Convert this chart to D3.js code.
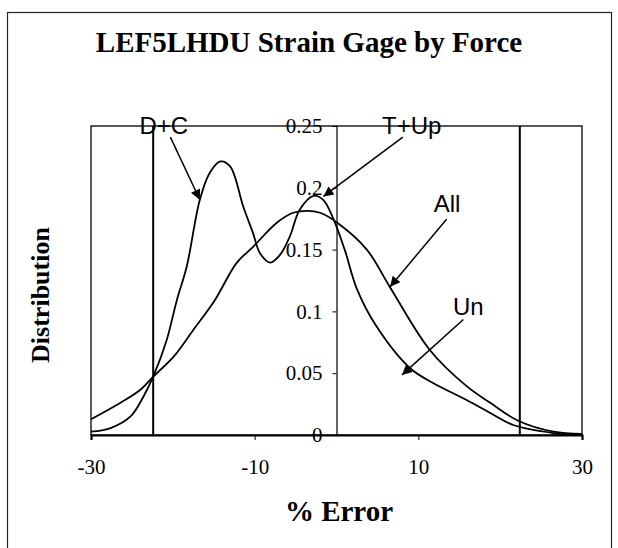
<!DOCTYPE html>
<html>
<head>
<meta charset="utf-8">
<script src="https://cdn.jsdelivr.net/npm/d3@7"></script>
<style>
  body { margin: 0; background: #fff; }
  svg { display: block; }
</style>
</head>
<body>
<svg id="chart" width="618" height="548"></svg>
<script>
// --- Data -------------------------------------------------
const xTicks = [-30, -10, 10, 30];
const yTicks = [0, 0.05, 0.1, 0.15, 0.2, 0.25];
const limitLines = [-22.4, 22.4];

// broad curve (All)
const allX = [-30, -26.5, -24, -22.4, -19.9, -17.5, -14.85, -12.2, -10.2, -7.3, -5.3, -3.6, -2, 0.1, 3.7, 6.5, 11.4, 15.9, 18.8, 22.2, 26.5, 30];
const allY = [0.0127, 0.0257, 0.0364, 0.0472, 0.0634, 0.085, 0.1093, 0.1393, 0.1522, 0.1717, 0.1798, 0.1814, 0.1798, 0.1717, 0.15, 0.12, 0.0688, 0.0395, 0.026, 0.0115, 0.0027, 0.0008];

// split curve (D+C / T+Up / Un)
const splitX = [-30, -27.7, -25.2, -23.6, -22.4, -20.75, -19.5, -18.3, -16.7, -15.5, -14.2, -13, -11.4, -10.2, -9.35, -8.1, -6.9, -5.7, -4.5, -2.8, -1.6, -0.4, 1, 2.5, 4.9, 9, 11.8, 15.9, 18.8, 21.6, 26.5, 30];
const splitY = [0.0027, 0.0054, 0.0148, 0.031, 0.0472, 0.0769, 0.1093, 0.1363, 0.1903, 0.2119, 0.2213, 0.2173, 0.1849, 0.1633, 0.1471, 0.1395, 0.1457, 0.1606, 0.1822, 0.1935, 0.19, 0.175, 0.15, 0.118, 0.0877, 0.054, 0.0421, 0.0283, 0.0178, 0.0081, 0.0016, 0];

// labels with arrows: text, label position (baseline), arrow start, arrow tip
const labelText = ["D+C", "T+Up", "All", "Un"];
const labelAt = [[-21.1, 0.2437], [9.2, 0.2437], [13.5, 0.1806], [16.1, 0.0972]];
const arrowFrom = [[-20.3, 0.241], [8.1, 0.241], [13.45, 0.1745], [15.5, 0.0935]];
const arrowTo = [[-16.7, 0.1903], [-1.6, 0.193], [6.55, 0.12], [8.0, 0.0486]];

// --- Layout ------------------------------------------------
const svg = d3.select("#chart");
const serif = "'Liberation Serif', 'Times New Roman', serif";

const x = d3.scaleLinear().domain([-30, 30]).range([91, 582]);
const y = d3.scaleLinear().domain([0, 0.25]).range([435, 126]);

// outer frame
svg.append("rect")
  .attr("x", 7.5).attr("y", 12.5)
  .attr("width", 604).attr("height", 540)
  .attr("fill", "none").attr("stroke", "#222").attr("stroke-width", 1.2);

// title
svg.append("text")
  .attr("x", 309).attr("y", 52)
  .attr("text-anchor", "middle")
  .style("font-family", serif)
  .style("font-weight", "bold")
  .style("font-size", "29px")
  .text("LEF5LHDU Strain Gage by Force");

// plot box
svg.append("rect")
  .attr("x", x(-30)).attr("y", y(0.25))
  .attr("width", x(30) - x(-30)).attr("height", y(0) - y(0.25))
  .attr("fill", "none").attr("stroke", "#000").attr("stroke-width", 1.3);

// limit lines
svg.selectAll("line.limit")
  .data(limitLines)
  .enter().append("line")
  .attr("class", "limit")
  .attr("x1", d => x(d)).attr("x2", d => x(d))
  .attr("y1", y(0.25)).attr("y2", y(0))
  .attr("stroke", "#000").attr("stroke-width", 2);

// y axis sits at x = 0
const yAxis = svg.append("g")
  .attr("transform", "translate(" + x(0) + ",0)")
  .call(d3.axisLeft(y).tickValues(yTicks).tickSize(4).tickPadding(10)
    .tickFormat(d => String(+d.toFixed(2))));
yAxis.select(".domain").attr("stroke-width", 1.2);
yAxis.selectAll("text")
  .style("font-family", serif)
  .style("font-size", "21px")
  .attr("fill", "#000");

// x axis (plain hyphen for negatives, like the original)
const xAxis = svg.append("g")
  .attr("transform", "translate(0," + y(0) + ")")
  .call(d3.axisBottom(x).tickValues(xTicks).tickSize(5).tickPadding(19)
    .tickFormat(d => String(d)));
xAxis.select(".domain").attr("stroke-width", 2.2);
xAxis.selectAll("text")
  .style("font-family", serif)
  .style("font-size", "21px")
  .attr("fill", "#000");

// axis titles
svg.append("text")
  .attr("x", 339).attr("y", 521)
  .attr("text-anchor", "middle")
  .style("font-family", serif)
  .style("font-weight", "bold")
  .style("font-size", "29px")
  .text("% Error");

svg.append("text")
  .attr("transform", "translate(49,295) rotate(-90)")
  .attr("text-anchor", "middle")
  .style("font-family", serif)
  .style("font-weight", "bold")
  .style("font-size", "26px")
  .text("Distribution");

// curves
const line = d3.line()
  .x(d => x(d[0]))
  .y(d => y(d[1]))
  .curve(d3.curveCatmullRom.alpha(0.5));

[[allX, allY], [splitX, splitY]].forEach(([xs, ys]) => {
  svg.append("path")
    .datum(xs.map((v, i) => [v, ys[i]]))
    .attr("d", line)
    .attr("fill", "none")
    .attr("stroke", "#000")
    .attr("stroke-width", 1.8);
});

// arrow heads
svg.append("defs").append("marker")
  .attr("id", "head")
  .attr("viewBox", "0 0 10 10")
  .attr("refX", 10).attr("refY", 5)
  .attr("markerWidth", 14).attr("markerHeight", 10)
  .attr("markerUnits", "userSpaceOnUse")
  .attr("orient", "auto")
  .append("path")
  .attr("d", "M0,0 L10,5 L0,10 Z")
  .attr("fill", "#000");

labelText.forEach((t, i) => {
  svg.append("line")
    .attr("x1", x(arrowFrom[i][0])).attr("y1", y(arrowFrom[i][1]))
    .attr("x2", x(arrowTo[i][0])).attr("y2", y(arrowTo[i][1]))
    .attr("stroke", "#000").attr("stroke-width", 1.5)
    .attr("marker-end", "url(#head)");
  svg.append("text")
    .attr("x", x(labelAt[i][0])).attr("y", y(labelAt[i][1]))
    .attr("text-anchor", "middle")
    .style("font-family", "'Liberation Sans', Arial, sans-serif")
    .style("font-size", "24px")
    .text(t);
});
</script>
</body>
</html>
